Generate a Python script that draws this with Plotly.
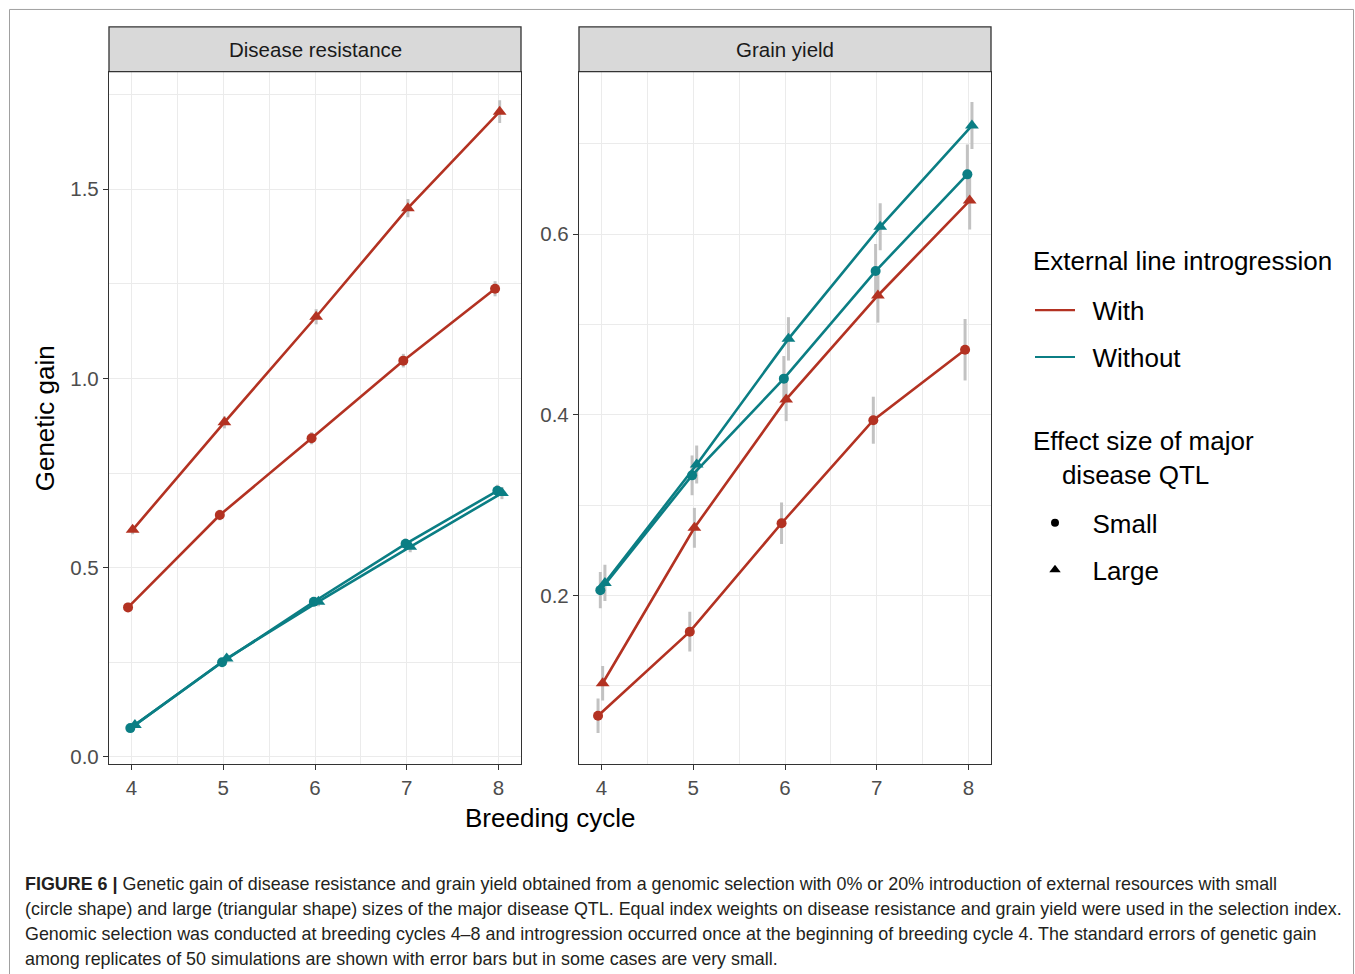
import plotly.graph_objects as go
import numpy as np

W, H = 1355, 974

cycles = [4, 5, 6, 7, 8]

# Disease resistance
dr_with_small = [0.395, 0.639, 0.842, 1.047, 1.237]
dr_with_large = [0.600, 0.884, 1.163, 1.450, 1.705]
dr_without_small = [0.076, 0.250, 0.410, 0.563, 0.703]
dr_without_large = [0.084, 0.260, 0.410, 0.555, 0.697]
dr_se_with_small = [0.012, 0.014, 0.016, 0.018, 0.020]
dr_se_with_large = [0.012, 0.016, 0.020, 0.024, 0.030]
dr_se_without_small = [0.008, 0.010, 0.012, 0.014, 0.016]
dr_se_without_large = [0.008, 0.010, 0.012, 0.014, 0.016]

# Grain yield
gy_with_small = [0.067, 0.160, 0.280, 0.394, 0.472]
gy_with_large = [0.103, 0.275, 0.417, 0.532, 0.637]
gy_without_small = [0.206, 0.333, 0.440, 0.559, 0.666]
gy_without_large = [0.214, 0.345, 0.484, 0.608, 0.720]
gy_se_with_small = [0.019, 0.022, 0.023, 0.026, 0.034]
gy_se_with_large = [0.019, 0.022, 0.024, 0.030, 0.032]
gy_se_without_small = [0.020, 0.022, 0.025, 0.030, 0.033]
gy_se_without_large = [0.020, 0.021, 0.024, 0.026, 0.026]

panel_titles = ["Disease resistance", "Grain yield"]
intro_levels = ["With", "Without"]
effect_levels = ["Small", "Large"]
legend_titles = ["External line introgression",
                 "Effect size of major<br>\u00a0\u00a0\u00a0\u00a0disease QTL"]

RED = "#B33222"
TEAL = "#0B7E84"
colors = {"With": RED, "Without": TEAL}
symbols = {"Small": "circle", "Large": "triangle-up"}
msize = {"Small": 10, "Large": 12}

# dodge order (ggplot-like)
dodge_width = 0.1
groups = [("With", "Small"), ("Without", "Small"), ("With", "Large"), ("Without", "Large")]
offsets = dict(zip(groups, (np.arange(4) - 1.5) * dodge_width / 4))

data = {
    ("dr", "With", "Small"): (dr_with_small, dr_se_with_small),
    ("dr", "With", "Large"): (dr_with_large, dr_se_with_large),
    ("dr", "Without", "Small"): (dr_without_small, dr_se_without_small),
    ("dr", "Without", "Large"): (dr_without_large, dr_se_without_large),
    ("gy", "With", "Small"): (gy_with_small, gy_se_with_small),
    ("gy", "With", "Large"): (gy_with_large, gy_se_with_large),
    ("gy", "Without", "Small"): (gy_without_small, gy_se_without_small),
    ("gy", "Without", "Large"): (gy_without_large, gy_se_without_large),
}

fig = go.Figure()
axes = {"dr": ("x", "y"), "gy": ("x2", "y2")}

# error bars first
for panel in ["dr", "gy"]:
    xa, ya = axes[panel]
    for g in groups:
        vals, se = data[(panel,) + g]
        xs = [c + offsets[g] for c in cycles]
        fig.add_trace(go.Scatter(
            x=xs, y=vals, mode="markers", xaxis=xa, yaxis=ya,
            marker=dict(size=1, opacity=0), showlegend=False, hoverinfo="skip",
            error_y=dict(type="data", array=se, visible=True, color="#C2C2C2",
                         thickness=3, width=0)))

for panel in ["dr", "gy"]:
    xa, ya = axes[panel]
    for g in groups:
        intro, eff = g
        vals, se = data[(panel,) + g]
        xs = [c + offsets[g] for c in cycles]
        fig.add_trace(go.Scatter(
            x=xs, y=vals, mode="lines+markers", xaxis=xa, yaxis=ya,
            line=dict(color=colors[intro], width=2.6),
            marker=dict(color=colors[intro], symbol=symbols[eff], size=msize[eff]),
            showlegend=False, name=f"{intro} {eff}"))

NB = "\u00a0\u2009"
# legend entries
for lv in intro_levels:
    fig.add_trace(go.Scatter(x=[None], y=[None], mode="lines", name=NB + lv,
                             line=dict(color=colors[lv], width=2.2),
                             legend="legend", legendgroup=lv))
for lv in effect_levels:
    fig.add_trace(go.Scatter(x=[None], y=[None], mode="markers", name=NB + lv,
                             marker=dict(color="black", symbol=symbols[lv],
                                         size=8 if lv == "Small" else 10),
                             legend="legend2", legendgroup=lv))

FONT = "Liberation Sans, Arial, sans-serif"
x1d = [109 / W, 521 / W]
x2d = [579 / W, 991 / W]
yd = [1 - 767 / H, 1 - 72 / H]

grid = "#EBEBEB"
TICKFONT = dict(size=20.5, color="#4D4D4D", family=FONT)
common_x = dict(range=[3.755, 8.245], tickvals=cycles, ticks="outside", ticklen=5,
                tickwidth=1.2, tickcolor="#333333", showline=True, linecolor="#333333",
                linewidth=1.3, mirror=True, showgrid=True, gridcolor=grid, gridwidth=1.2,
                minor=dict(dtick=0.5, tick0=0, showgrid=True, gridcolor=grid, gridwidth=0.7),
                zeroline=False, tickfont=TICKFONT)
common_y = dict(ticks="outside", ticklen=5, tickwidth=1.2, tickcolor="#333333",
                showline=True, linecolor="#333333", linewidth=1.3, mirror=True,
                showgrid=True, gridcolor=grid, gridwidth=1.2, zeroline=False,
                tickformat=".1f", tickfont=TICKFONT)

fig.update_layout(
    width=W, height=H, margin=dict(l=0, r=0, t=0, b=0),
    paper_bgcolor="white", plot_bgcolor="white",
    font=dict(family=FONT, color="black"),
    xaxis=dict(domain=x1d, anchor="y", **common_x),
    xaxis2=dict(domain=x2d, anchor="y2", **common_x),
    yaxis=dict(domain=yd, anchor="x", range=[-0.0184, 1.8105], dtick=0.5, tick0=0,
               minor=dict(dtick=0.25, tick0=0, showgrid=True, gridcolor=grid, gridwidth=0.7),
               **common_y),
    yaxis2=dict(domain=yd, anchor="x2", range=[0.0138, 0.7796], dtick=0.2, tick0=0,
                minor=dict(dtick=0.1, tick0=0, showgrid=True, gridcolor=grid, gridwidth=0.7),
                **common_y),
    legend=dict(x=1030 / W, y=1 - 288 / H, xanchor="left", yanchor="top",
                font=dict(size=26, family=FONT), itemwidth=40, tracegroupgap=10,
                traceorder="grouped", bgcolor="rgba(0,0,0,0)"),
    legend2=dict(x=1030 / W, y=1 - 501.5 / H, xanchor="left", yanchor="top",
                 font=dict(size=26, family=FONT), itemwidth=40, tracegroupgap=10,
                 traceorder="grouped", bgcolor="rgba(0,0,0,0)"),
)

shapes = []
annotations = []
# outer figure border
shapes.append(dict(type="rect", xref="paper", yref="paper", x0=9.5 / W, x1=1353.5 / W,
                   y0=-0.05, y1=1 - 9.5 / H, line=dict(color="#A0A0A0", width=1),
                   fillcolor="rgba(0,0,0,0)", layer="below"))
# strips
for dom, title in zip([x1d, x2d], panel_titles):
    shapes.append(dict(type="rect", xref="paper", yref="paper", x0=dom[0], x1=dom[1],
                       y0=1 - 72 / H, y1=1 - 27 / H, fillcolor="#D9D9D9",
                       line=dict(color="#333333", width=1.3)))
    annotations.append(dict(text=title, xref="paper", yref="paper", x=(dom[0] + dom[1]) / 2,
                            y=1 - 49.5 / H, showarrow=False, xanchor="center", yanchor="middle",
                            font=dict(size=20.5, color="#1A1A1A", family=FONT)))

annotations.append(dict(text="Genetic gain", xref="paper", yref="paper", x=45 / W, y=1 - 420 / H,
                        showarrow=False, textangle=-90, xanchor="center", yanchor="middle",
                        font=dict(size=26, color="black", family=FONT)))
annotations.append(dict(text="Breeding cycle", xref="paper", yref="paper", x=550 / W,
                        y=1 - 821 / H, showarrow=False, xanchor="center", yanchor="middle",
                        font=dict(size=26, color="black", family=FONT)))

# legend titles
for txt, ly in zip(legend_titles, [262, 460]):
    annotations.append(dict(text=txt, xref="paper", yref="paper", x=1031 / W, y=1 - ly / H,
                            showarrow=False, xanchor="left", yanchor="middle", align="left",
                            font=dict(size=26, color="black", family=FONT)))

caption_lines = [
    "<b>FIGURE 6 | </b>Genetic gain of disease resistance and grain yield obtained from a genomic selection with 0% or 20% introduction of external resources with small",
    "(circle shape) and large (triangular shape) sizes of the major disease QTL. Equal index weights on disease resistance and grain yield were used in the selection index.",
    "Genomic selection was conducted at breeding cycles 4–8 and introgression occurred once at the beginning of breeding cycle 4. The standard errors of genetic gain",
    "among replicates of 50 simulations are shown with error bars but in some cases are very small.",
]
for i, line in enumerate(caption_lines):
    annotations.append(dict(text=line, xref="paper", yref="paper", x=23 / W,
                            y=1 - (888 + 25 * i) / H, showarrow=False, xanchor="left",
                            yanchor="middle", align="left",
                            font=dict(size=17.9, color="#231F20", family=FONT)))

fig.update_layout(shapes=shapes, annotations=annotations)
fig.write_html("out.html", config={"displayModeBar": False},
               post_script="document.body.style.margin='0';document.body.style.overflow='hidden';")
